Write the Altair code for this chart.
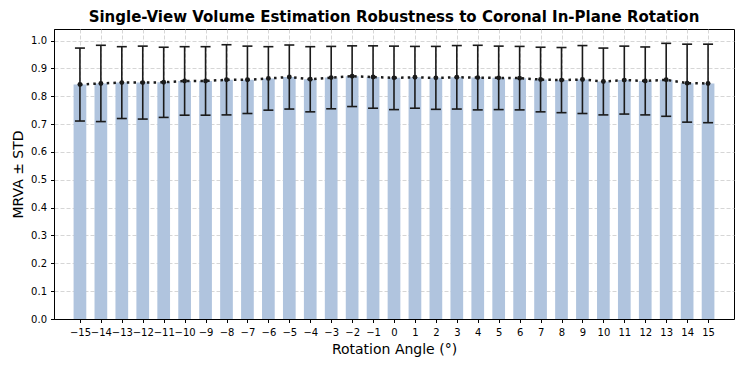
import altair as alt
import pandas as pd

angles = list(range(-15, 16))
means = [0.842, 0.846, 0.849, 0.849, 0.850, 0.855, 0.855, 0.859, 0.859, 0.864,
         0.869, 0.861, 0.867, 0.872, 0.869, 0.866, 0.868, 0.866, 0.868, 0.867,
         0.866, 0.865, 0.860, 0.858, 0.860, 0.853, 0.858, 0.855, 0.859, 0.847, 0.846]
stds = [0.131, 0.137, 0.129, 0.131, 0.126, 0.123, 0.123, 0.126, 0.121, 0.114,
        0.115, 0.117, 0.112, 0.109, 0.112, 0.114, 0.111, 0.113, 0.114, 0.116,
        0.114, 0.114, 0.116, 0.117, 0.122, 0.120, 0.122, 0.122, 0.131, 0.140, 0.141]
y_ticks = [0.0, 0.1, 0.2, 0.3, 0.4, 0.5, 0.6, 0.7, 0.8, 0.9, 1.0]

df = pd.DataFrame({"angle": angles, "mean": means, "std": stds})
df["lo"] = df["mean"] - df["std"]
df["hi"] = df["mean"] + df["std"]

FONT = "DejaVu Sans"
x_scale = alt.Scale(domain=[-16, 16], nice=False, zero=False)
y_scale = alt.Scale(domain=[0, 1.0415], nice=False)

common = dict(grid=True, gridDash=[4, 2], gridColor="#cccccc", gridWidth=0.8,
              tickSize=3.5, tickColor="#000", domainColor="#000",
              titlePadding=5, labelFontSize=10, titleFontSize=14,
              labelFont=FONT, titleFont=FONT, labelColor="#000", titleColor="#000",
              titleFontWeight="normal", labelOverlap=False, labelFlush=False,
              labelBound=False)

x_axis = alt.Axis(values=angles, title="Rotation Angle (°)", labelPadding=5,
                  labelExpr="replace(format(datum.value, 'd'), '-', '−')", **common)
y_axis = alt.Axis(values=y_ticks, format=".1f", title="MRVA ± STD", labelPadding=4, **common)

base = alt.Chart(df)
X = alt.X("angle:Q", scale=x_scale, axis=x_axis)


def Y(field):
    return alt.Y(field, type="quantitative", scale=y_scale, axis=y_axis)


bars = base.mark_bar(width=12.7, color="#b0c4de").encode(x=X, y=Y("mean"))
rules = base.mark_rule(color="#1a1a1a", strokeWidth=1.6).encode(
    x=X, y=Y("lo"), y2="hi:Q",
)
caps_lo = base.mark_tick(orient="horizontal", size=10, thickness=1.6, color="#1a1a1a", opacity=1).encode(
    x=X, y=Y("lo"),
)
caps_hi = base.mark_tick(orient="horizontal", size=10, thickness=1.6, color="#1a1a1a", opacity=1).encode(
    x=X, y=Y("hi"),
)
line = base.mark_line(color="#1a1a1a", strokeWidth=2.5, strokeDash=[2.5, 4.2]).encode(
    x=X, y=Y("mean"),
)
pts = base.mark_circle(size=24, color="#1a1a1a", opacity=1).encode(
    x=X, y=Y("mean"),
)

chart = alt.layer(bars, rules, caps_lo, caps_hi, line, pts).properties(
    width=680, height=290,
    autosize=alt.AutoSizeParams(type="none"),
    padding={"left": 46, "top": 21, "right": 6, "bottom": 40},
    title=alt.TitleParams("Single-View Volume Estimation Robustness to Coronal In-Plane Rotation",
                          font=FONT, fontSize=15, fontWeight="bold", color="#000",
                          offset=4),
).configure_view(stroke="#000", strokeWidth=1)

chart.save("out.html", embed_options={"renderer": "svg", "actions": False})
